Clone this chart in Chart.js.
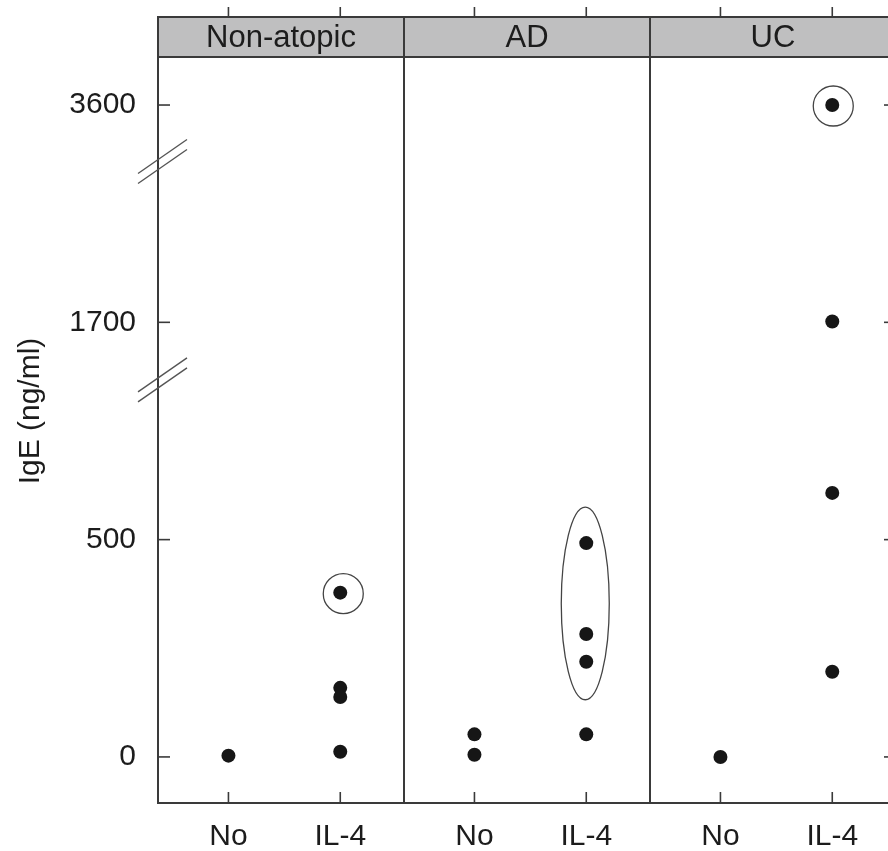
<!DOCTYPE html>
<html>
<head>
<meta charset="utf-8">
<script src="https://cdn.jsdelivr.net/npm/chart.js@4"></script>
<style>
html,body{margin:0;padding:0;background:#fff;overflow:hidden;}
#c{display:block;}
</style>
</head>
<body>
<canvas id="c" width="910" height="851" style="width:910px;height:851px"></canvas>
<script>
// panels and groups
var panels = ['Non-atopic', 'AD', 'UC'];
var groups = ['No', 'IL-4'];

// IgE (ng/ml) per panel / group
var nonAtopicNo = [3];
var nonAtopicIL4 = [378, 159, 138, 12];
var adNo = [52, 5];
var adIL4 = [492, 283, 219, 52];
var ucNo = [0];
var ucIL4 = [3600, 1707, 758, 196];

// broken y axis: tick values sit at equal steps
var yTickValues = [0, 500, 1700, 3600];
var yTickLabels = ['0', '500', '1700', '3600'];
var yBreaks = [1.735, 2.74]; // in axis steps

var FONT = '"Liberation Sans", Arial, sans-serif';
var INK = '#1c1c1c';
var LINE = '#3a3a3a';

var PANEL_W = 2.2, OFF = 0.63;

function ypos(v) {
    for (var i = 1; i < yTickValues.length; i++) {
        if (v <= yTickValues[i] || i == yTickValues.length - 1) {
            var a = yTickValues[i - 1], b = yTickValues[i];
            return (i - 1) + (v - a) / (b - a);
        }
    }
}
function xpos(panel, group) { return panel * PANEL_W + OFF + group; }

var allSeries = [[nonAtopicNo, nonAtopicIL4], [adNo, adIL4], [ucNo, ucIL4]];
var pts = [];
for (var p = 0; p < allSeries.length; p++) {
    for (var g = 0; g < 2; g++) {
        var arr = allSeries[p][g];
        for (var k = 0; k < arr.length; k++) pts.push({x: xpos(p, g), y: ypos(arr[k])});
    }
}

// marked groups: circle around single point, ellipse around a set
var marks = [
    {panel: 0, group: 1, vals: [378], rx: 20, ry: 20, dx: 3},
    {panel: 1, group: 1, vals: [492, 283, 219], rx: 24, ry: 37, dx: -1},
    {panel: 2, group: 1, vals: [3600], rx: 20, ry: 20, dx: 1}
];

var xTicks = [];
for (var p2 = 0; p2 < panels.length; p2++) for (var g2 = 0; g2 < groups.length; g2++) xTicks.push(xpos(p2, g2));

function line(ctx, x1, y1, x2, y2) {
    ctx.beginPath(); ctx.moveTo(x1, y1); ctx.lineTo(x2, y2); ctx.stroke();
}

var framePlugin = {
    id: 'frame',
    afterDraw: function (chart) {
        var ctx = chart.ctx, a = chart.chartArea;
        var xs = chart.scales.x, ys = chart.scales.y;
        var stripTop = a.top - 40;
        ctx.save();
        // strips
        for (var i = 0; i < panels.length; i++) {
            var l = xs.getPixelForValue(i * PANEL_W), r = xs.getPixelForValue((i + 1) * PANEL_W);
            ctx.fillStyle = '#bfbfc0';
            ctx.fillRect(l, stripTop, r - l, a.top - stripTop);
            ctx.fillStyle = INK;
            ctx.font = '31px ' + FONT;
            ctx.textAlign = 'center';
            ctx.textBaseline = 'middle';
            ctx.fillText(panels[i], (l + r) / 2, (stripTop + a.top) / 2 + 1);
        }
        ctx.strokeStyle = LINE;
        ctx.lineWidth = 2;
        ctx.strokeRect(a.left, stripTop, a.right - a.left, a.bottom - stripTop);
        line(ctx, a.left, a.top, a.right, a.top);
        for (var j = 1; j < panels.length; j++) {
            var xx = Math.round(xs.getPixelForValue(j * PANEL_W));
            line(ctx, xx, stripTop, xx, a.bottom);
        }
        // ticks
        ctx.lineWidth = 1.6;
        xTicks.forEach(function (t) {
            var px = xs.getPixelForValue(t);
            line(ctx, px, stripTop, px, stripTop - 10);
            line(ctx, px, a.bottom, px, a.bottom - 11);
        });
        for (var k = 0; k < yTickValues.length; k++) {
            var py = ys.getPixelForValue(k);
            line(ctx, a.left, py, a.left + 12, py);
            line(ctx, a.right, py, a.right - 12, py);
        }
        // axis breaks
        ctx.lineWidth = 1.4;
        ctx.strokeStyle = '#555';
        yBreaks.forEach(function (b) {
            var cy = ys.getPixelForValue(b), cx = a.left + 4.5;
            line(ctx, cx - 24.5, cy + 12, cx + 24.5, cy - 22);
            line(ctx, cx - 24.5, cy + 22, cx + 24.5, cy - 12);
        });
        // circles / ellipse
        ctx.strokeStyle = '#444';
        ctx.lineWidth = 1.3;
        marks.forEach(function (m) {
            var ps = m.vals.map(function (v) { return ys.getPixelForValue(ypos(v)); });
            var top = Math.min.apply(null, ps), bot = Math.max.apply(null, ps);
            var cx = xs.getPixelForValue(xpos(m.panel, m.group)) + m.dx;
            ctx.beginPath();
            ctx.ellipse(cx, (top + bot) / 2 + 1, m.rx, (bot - top) / 2 + m.ry, 0, 0, Math.PI * 2);
            ctx.stroke();
        });
        // y title
        ctx.fillStyle = INK;
        ctx.font = '30px ' + FONT;
        ctx.translate(31, 411);
        ctx.rotate(-Math.PI / 2);
        ctx.textAlign = 'center';
        ctx.textBaseline = 'middle';
        ctx.fillText('IgE (ng/ml)', 0, 0);
        ctx.restore();
    }
};

new Chart(document.getElementById('c'), {
    type: 'scatter',
    data: {
        datasets: [{
            data: pts,
            pointRadius: 7,
            pointHoverRadius: 7,
            pointBackgroundColor: '#161616',
            pointBorderWidth: 0
        }]
    },
    options: {
        responsive: false,
        animation: false,
        events: [],
        layout: {padding: {left: 0, top: 57, right: 14, bottom: 0}},
        plugins: {legend: {display: false}, tooltip: {enabled: false}},
        scales: {
            x: {
                type: 'linear', min: 0, max: PANEL_W * 3,
                grid: {display: false, drawTicks: false},
                border: {display: false},
                afterBuildTicks: function (s) { s.ticks = xTicks.map(function (v) { return {value: v}; }); },
                afterFit: function (s) { s.height = 48; },
                ticks: {
                    padding: 16, color: INK, font: {family: FONT, size: 30},
                    callback: function (v, i) { return groups[i % 2]; }
                }
            },
            y: {
                type: 'linear', min: -0.212, max: 3.221,
                grid: {display: false, drawTicks: false},
                border: {display: false},
                afterBuildTicks: function (s) { s.ticks = yTickValues.map(function (v, i) { return {value: i}; }); },
                afterFit: function (s) { s.width = 158; },
                ticks: {
                    padding: 22, color: INK, font: {family: FONT, size: 30},
                    callback: function (v, i) { return yTickLabels[i]; }
                }
            }
        }
    },
    plugins: [framePlugin]
});
</script>
</body>
</html>
